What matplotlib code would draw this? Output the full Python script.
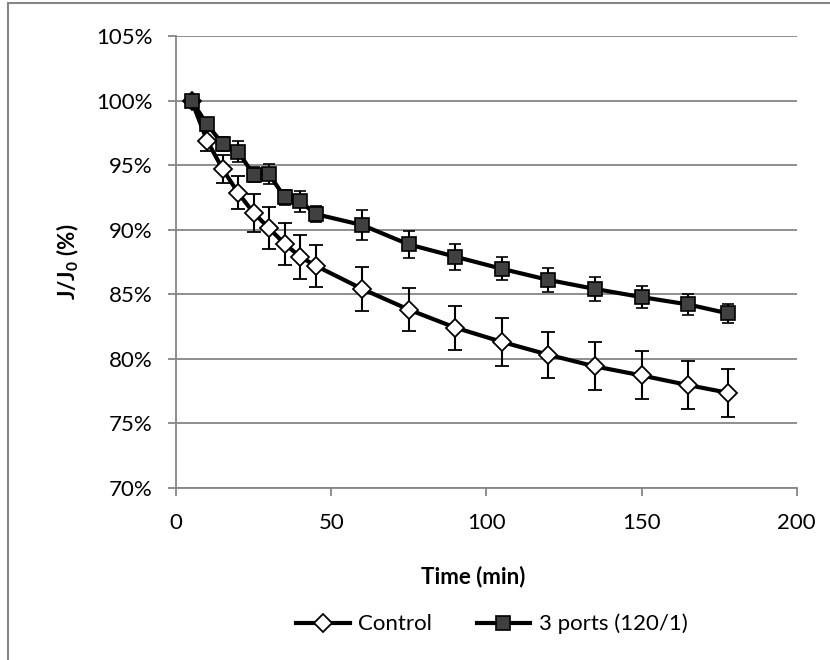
import matplotlib
matplotlib.use("Agg")
import matplotlib.pyplot as plt
from matplotlib.patches import Rectangle
from matplotlib.lines import Line2D

# ---- data ----
time_min = [5, 10, 15, 20, 25, 30, 35, 40, 45, 60, 75, 90, 105, 120, 135, 150, 165, 178]
control = [100.0, 96.9, 94.7, 92.85, 91.3, 90.1, 88.9, 87.9, 87.2, 85.4, 83.8, 82.4, 81.3, 80.3, 79.4, 78.7, 77.95, 77.35]
control_err = [0.3, 0.8, 1.06, 1.29, 1.47, 1.64, 1.63, 1.7, 1.63, 1.7, 1.68, 1.7, 1.86, 1.77, 1.86, 1.86, 1.86, 1.85]
ports = [100.0, 98.15, 96.65, 96.05, 94.25, 94.3, 92.5, 92.2, 91.2, 90.35, 88.85, 87.9, 86.96, 86.1, 85.4, 84.77, 84.2, 83.5]
ports_err = [0.3, 0.5, 0.55, 0.78, 0.6, 0.77, 0.6, 0.8, 0.6, 1.16, 1.07, 1.0, 0.89, 0.9, 0.9, 0.88, 0.83, 0.76]
series_names = ["Control", "3 ports (120/1)"]
x_ticks = [0, 50, 100, 150, 200]
y_ticks = [70, 75, 80, 85, 90, 95, 100, 105]
y_ticklabels = ["70%", "75%", "80%", "85%", "90%", "95%", "100%", "105%"]

plt.rcParams['font.family'] = ['Lato', 'DejaVu Sans']
W, H = 830, 660
fig = plt.figure(figsize=(W / 100, H / 100), dpi=100)
grid_c = "#868686"

ax = fig.add_axes([176 / W, 1 - 487.7 / H, 620.7 / W, 451.7 / H])

style_c = dict(color="black", lw=3.0, marker="D", ms=9, mfc="white", mec="black", mew=1.3)
style_p = dict(color="black", lw=3.0, marker="s", ms=9.8, mfc="#404040", mec="black", mew=1.2)

ax.errorbar(time_min, control, yerr=control_err, ecolor="black", elinewidth=1.5,
            capsize=4.8, capthick=1.5, zorder=3, **style_c)
ax.errorbar(time_min, ports, yerr=ports_err, ecolor="black", elinewidth=1.5,
            capsize=4.5, capthick=1.5, zorder=4, **style_p)

ax.set_xlim(0, 200)
ax.set_ylim(70, 105)
ax.set_xticks(x_ticks)
ax.set_yticks(y_ticks)
ax.set_yticklabels(y_ticklabels)
ax.grid(axis="y", color=grid_c, lw=1.3)
ax.set_axisbelow(True)
for s in ["top", "right"]:
    ax.spines[s].set_visible(False)
for s in ["left", "bottom"]:
    ax.spines[s].set_color(grid_c)
    ax.spines[s].set_linewidth(1.3)
ax.tick_params(axis="both", direction="out", length=6, width=1.3, color=grid_c,
               labelsize=16, labelcolor="black")
ax.tick_params(axis="y", pad=11)
ax.tick_params(axis="x", pad=12)

fig.text(473 / W, 1 - 577 / H, "Time (min)", ha="center", va="center",
         fontsize=16, fontweight="bold")
fig.text(68 / W, 1 - 262 / H, r"J/J$_\mathregular{0}$ (%)", ha="center", va="center",
         rotation=90, fontsize=16, fontweight="bold")

handles = [Line2D([], [], **style_c), Line2D([], [], **style_p)]
leg = fig.legend(handles, series_names, loc="center",
                 bbox_to_anchor=(492 / W, 1 - 624 / H), ncol=2,
                 frameon=False, fontsize=16, handlelength=2.4, columnspacing=2.0,
                 handletextpad=0.4)

fig.add_artist(Rectangle((8 / W, -0.05), 1.1, 1 - 3 / H + 0.05,
                         transform=fig.transFigure, fill=False,
                         edgecolor=grid_c, lw=1.5))

fig.savefig("out.png", dpi=100)
